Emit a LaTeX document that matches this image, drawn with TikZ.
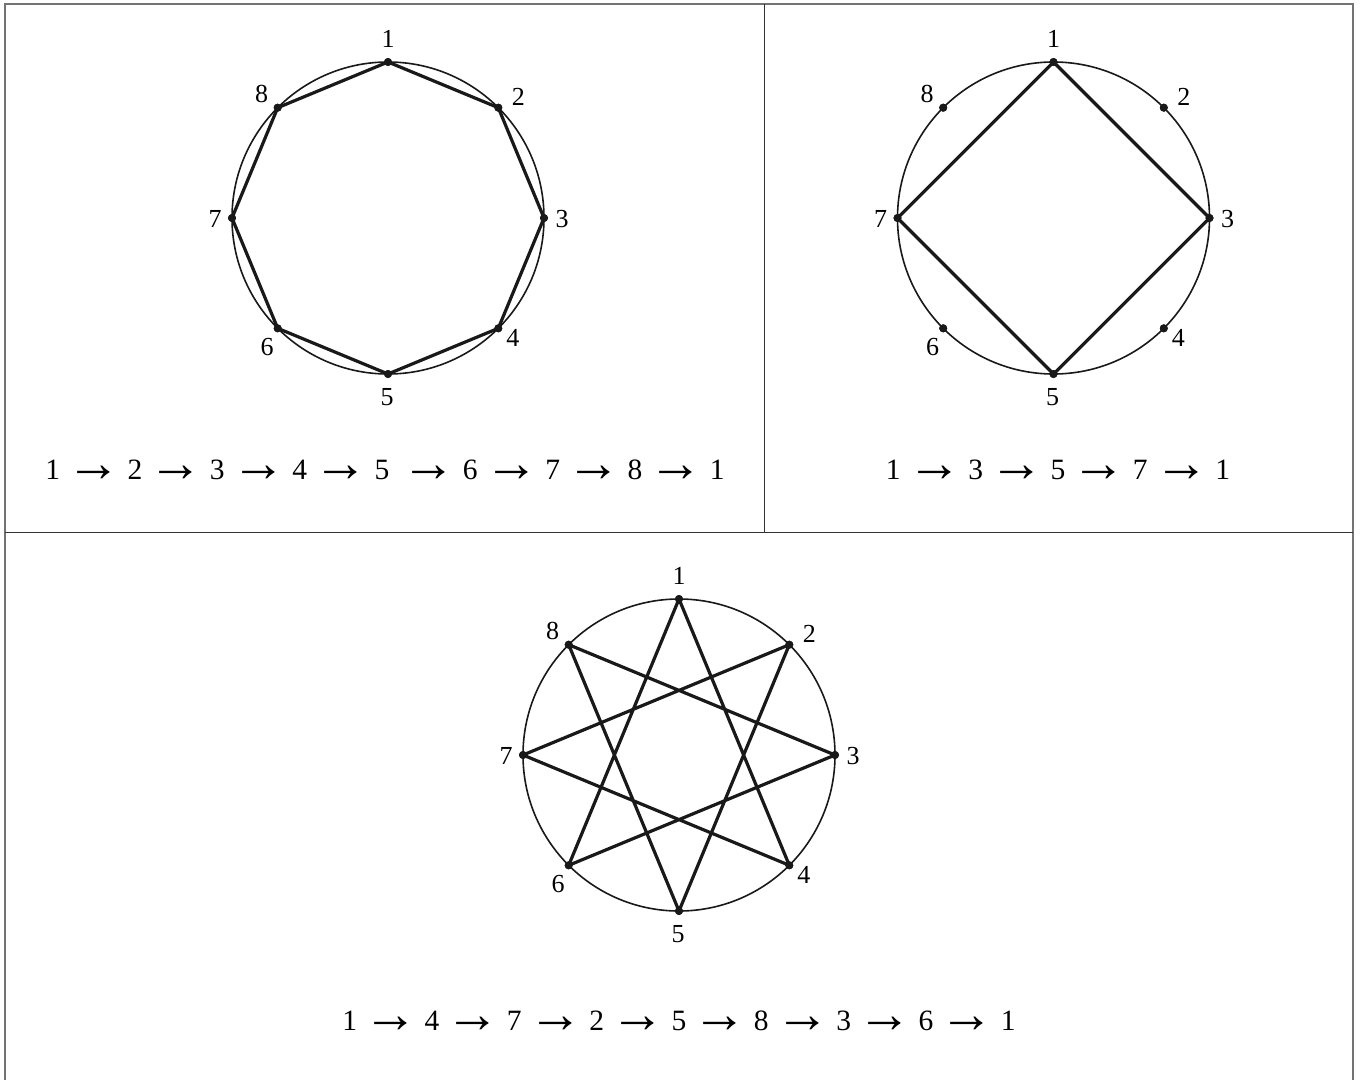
\documentclass[tikz,border=0pt]{standalone}
\usepackage{fontspec}
\setmainfont{Liberation Serif}
\usetikzlibrary{calc}
\newcommand\seqarr{\hspace{6.5pt}\raisebox{-2pt}{\scalebox{1.85}{→}}\hspace{6.5pt}}
\tikzset{
  x=1pt, y=-1pt,
  frameline/.style={draw=black!55, line width=1.5pt},
  innerline/.style={draw=black!80, line width=1.4pt},
  ring/.style={draw=black!90, line width=1.6pt},
  chord/.style={draw=black!90, line width=3.2pt, line join=round},
  vdot/.style={circle, fill=black!90, inner sep=0pt, minimum size=8pt},
  vlabel/.style={inner sep=0pt, font=\fontsize{26}{30}\selectfont},
  seqtext/.style={inner sep=0pt, anchor=base, font=\fontsize{29.5}{34}\selectfont}
}
\newcommand\wheel[3]{% name prefix, cx, cy
  \draw[ring] (#2,#3) circle (156);
  \foreach \k/\ang in {1/90,2/45,3/0,4/-45,5/-90,6/-135,7/180,8/135}{
    \node[vdot] (#1\k) at ($(#2,#3)+({156*cos(\ang)},{-156*sin(\ang)})$) {};
  }
  \node[vlabel] (#1l1) at ($(#11)+(0,-23)$) {1};
  \node[vlabel] (#1l2) at ($(#12)+(20,-10.5)$) {2};
  \node[vlabel] (#1l3) at ($(#13)+(18,1)$) {3};
  \node[vlabel] (#1l4) at ($(#14)+(14.5,10)$) {4};
  \node[vlabel] (#1l5) at ($(#15)+(-1,23)$) {5};
  \node[vlabel] (#1l6) at ($(#16)+(-10.5,19)$) {6};
  \node[vlabel] (#1l7) at ($(#17)+(-17,1)$) {7};
  \node[vlabel] (#1l8) at ($(#18)+(-16,-14)$) {8};
}
\begin{document}
\begin{tikzpicture}
\useasboundingbox (0,0) rectangle (1360,1079);
\fill[white] (0,0) rectangle (1360,1079);
% frame
\draw[frameline] (5,1085) -- (5,4) -- (1353,4) -- (1353,1085);
\draw[innerline] (5,532.3) -- (1353,532.3);
\draw[innerline] (764.7,4) -- (764.7,532.3);
% panel 1
\wheel{a}{388}{218}
\draw[chord] (a1.center) -- (a2.center) -- (a3.center) -- (a4.center) -- (a5.center) -- (a6.center) -- (a7.center) -- (a8.center) -- cycle;
\node[seqtext] (seqa) at (385,479) {1\seqarr 2\seqarr 3\seqarr 4\seqarr 5\hspace{6pt}\seqarr 6\seqarr 7\seqarr 8\seqarr 1};
% panel 2
\wheel{b}{1053.5}{218}
\draw[chord] (b1.center) -- (b3.center) -- (b5.center) -- (b7.center) -- cycle;
\node[seqtext] (seqb) at (1058,479) {1\seqarr 3\seqarr 5\seqarr 7\seqarr 1};
% panel 3
\wheel{c}{679}{755}
\draw[chord] (c1.center) -- (c4.center) -- (c7.center) -- (c2.center) -- (c5.center) -- (c8.center) -- (c3.center) -- (c6.center) -- cycle;
\node[seqtext] (seqc) at (679,1030) {1\seqarr 4\seqarr 7\seqarr 2\seqarr 5\seqarr 8\seqarr 3\seqarr 6\seqarr 1};
% redraw dots on top
\foreach \p in {a,b,c}{\foreach \k in {1,...,8}{\fill[black!90] (\p\k) circle (4);}}
\end{tikzpicture}
\end{document}
